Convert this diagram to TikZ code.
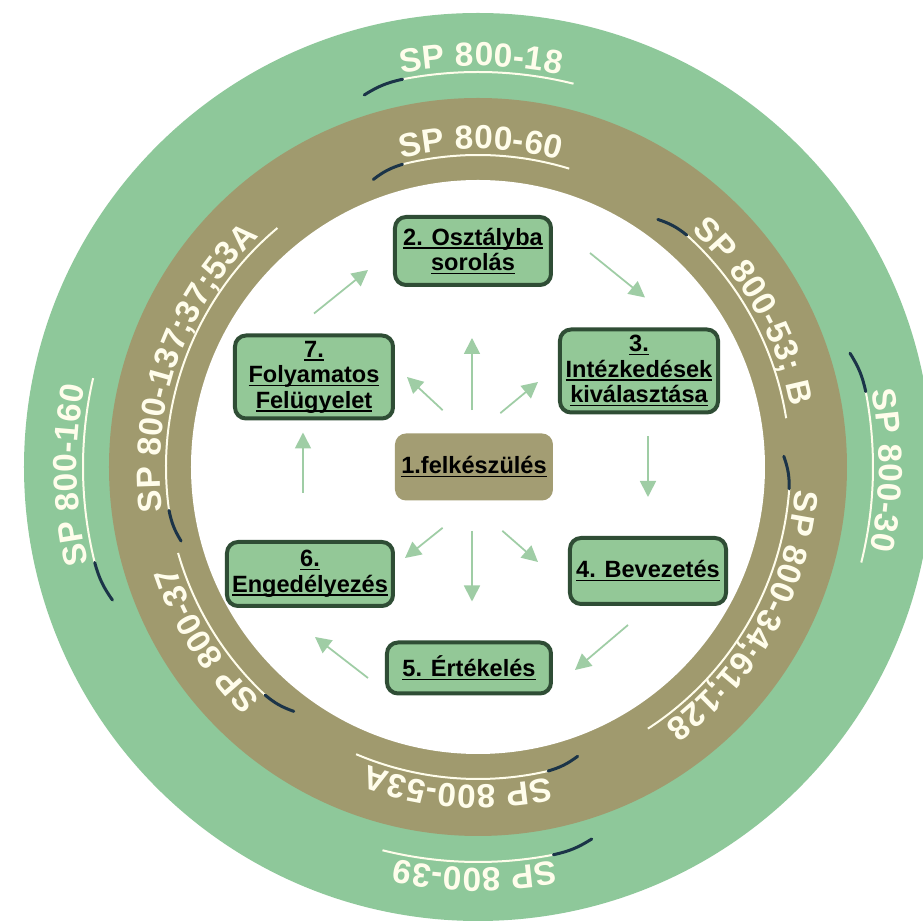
\documentclass[tikz,border=0pt]{standalone}
\usepackage{fontspec}
\setmainfont{Liberation Sans}
\usetikzlibrary{arrows.meta,calc,decorations.text}
\definecolor{RingGreen}{HTML}{8EC89A}
\definecolor{RingTan}{HTML}{A09A6E}
\definecolor{StageFill}{HTML}{93C897}
\definecolor{StageLine}{HTML}{2F4D35}
\definecolor{CoreFill}{HTML}{A39D73}
\definecolor{FlowGreen}{HTML}{9FCDA5}
\definecolor{TickBlue}{HTML}{1B3448}
\definecolor{LabelWhite}{HTML}{FFFDEB}

\newcommand{\ulw}[1]{\setbox0\hbox{#1}\rlap{\rule[-2pt]{\wd0}{0.9pt}}\box0}
\newcommand{\ringfont}{\fontsize{19}{20}\selectfont\bfseries}

\begin{document}
\begin{tikzpicture}[x=0.2mm,y=0.2mm,
    stage/.style={draw=StageLine,line width=0.8mm,fill=StageFill,rounded corners=2.2mm,
      align=center,inner sep=1mm,font={\fontsize{13.4}{14.5}\selectfont\bfseries}},
    core/.style={fill=CoreFill,rounded corners=2.2mm,align=center,inner sep=1mm,
      font={\fontsize{13.4}{14.5}\selectfont\bfseries}},
    flow/.style={draw=FlowGreen,line width=0.35mm,-{Triangle[length=3.2mm,width=3.2mm]}},
    uline/.style={draw=LabelWhite,line width=0.4mm},
    tick/.style={draw=TickBlue,line width=0.6mm,line cap=round},
    ringlabel/.style={postaction={decorate,decoration={text along path,raise=1.2mm,
      text color=LabelWhite,text={|\ringfont|#1}}}}]

  \path[use as bounding box,clip] (-478,-454) rectangle (445,467);
  \fill[white] (-478,-454) rectangle (445,467);

  % rings
  \fill[RingGreen] (0,0) circle[radius=454];
  \fill[RingTan] (0,0) circle[radius=369];
  \fill[white] (0,0) circle[radius=287];

  % outer ring labels
  \draw[uline,ringlabel={SP 800-18}] (101:395) arc[start angle=101,end angle=76,radius=395];
  \draw[tick] (107:389) to[bend left=10] (101:395);
  \draw[uline,ringlabel={SP 800-30}] (11:395) arc[start angle=11,end angle=-14,radius=395];
  \draw[tick] (17:389) to[bend left=10] (11:395);
  \draw[uline,ringlabel={SP 800-39}] (-79:395) arc[start angle=-79,end angle=-104,radius=395];
  \draw[tick] (-73:389) to[bend left=10] (-79:395);
  \draw[uline,ringlabel={SP 800-160}] (194:395) arc[start angle=194,end angle=167,radius=395];
  \draw[tick] (200:389) to[bend left=10] (194:395);

  % inner ring labels
  \draw[uline,ringlabel={SP 800-60}] (104:312) arc[start angle=104,end angle=73,radius=312];
  \draw[tick] (110:306) to[bend left=10] (104:312);
  \draw[uline,ringlabel={SP 800-53; B}] (48:312) arc[start angle=48,end angle=9,radius=312];
  \draw[tick] (54:306) to[bend left=10] (48:312);
  \draw[uline,ringlabel={SP 800-34;61;128}] (-4:312) arc[start angle=-4,end angle=-57,radius=312];
  \draw[tick] (2:306) to[bend left=10] (-4:312);
  \draw[uline,ringlabel={SP 800-53A}] (-77:312) arc[start angle=-77,end angle=-113,radius=312];
  \draw[tick] (-71:306) to[bend left=10] (-77:312);
  \draw[uline,ringlabel={SP 800-37}] (227:312) arc[start angle=227,end angle=196,radius=312];
  \draw[tick] (233:306) to[bend left=10] (227:312);
  \draw[uline,ringlabel={SP 800-137;37;53A}] (188:312) arc[start angle=188,end angle=130,radius=312];
  \draw[tick] (194:306) to[bend left=10] (188:312);

  % stages
  \node[core,minimum width=31.6mm,minimum height=13.4mm] (felkesz) at (-4,0) {\ulw{1.felkészülés}};
  \node[stage,minimum width=31.2mm,minimum height=13.6mm] (osztaly) at (-5,216) {\ulw{2. Osztályba}\\\ulw{sorolás}};
  \node[stage,minimum width=31.6mm,minimum height=16.6mm] (intezk) at (161,96) {\ulw{3.}\\\ulw{Intézkedések}\\\ulw{kiválasztása}};
  \node[stage,minimum width=31.2mm,minimum height=13.2mm] (bevez) at (170,-104) {\ulw{4. Bevezetés}};
  \node[stage,minimum width=32.8mm,minimum height=10.2mm] (ertek) at (-9,-201) {\ulw{5. Értékelés}};
  \node[stage,minimum width=33.2mm,minimum height=12.8mm] (engedely) at (-168,-107) {\ulw{6.}\\\ulw{Engedélyezés}};
  \node[stage,minimum width=31.6mm,minimum height=16.6mm] (felugy) at (-164,90) {\ulw{7.}\\\ulw{Folyamatos}\\\ulw{Felügyelet}};

  % cycle
  \draw[flow] ($(felugy.north)+(0,20)$) -- ($(osztaly.west)+(-25,-19)$);
  \draw[flow] ($(osztaly.east)+(37,-2)$) -- ($(intezk.north)+(6,30)$);
  \draw[flow] ($(intezk.south)+(9,-22)$) -- ($(bevez.north)+(0,39)$);
  \draw[flow] ($(bevez.south)+(-20,-19)$) -- ($(ertek.east)+(22,-2)$);
  \draw[flow] ($(ertek.west)+(-17,-10)$) -- ($(engedely.south)+(5,-29)$);
  \draw[flow] ($(engedely.north)+(-7,47)$) -- ($(felugy.south)+(-11,-12)$);

  % from the centre
  \draw[flow] ($(felkesz.north)+(-2,23)$) -- ($(osztaly.south)+(-1,-51)$);
  \draw[flow] ($(felkesz.north west)+(48,23)$) -- ($(felugy.east)+(12,0)$);
  \draw[flow] ($(felkesz.north east)+(-53,20)$) -- ($(intezk.west)+(-20,-11)$);
  \draw[flow] ($(felkesz.south)+(-2,-30)$) -- ($(ertek.north)+(3,39)$);
  \draw[flow] ($(felkesz.south west)+(48,-27)$) -- ($(engedely.east)+(10,16)$);
  \draw[flow] ($(felkesz.south east)+(-51,-30)$) -- ($(bevez.west)+(-30,9)$);
\end{tikzpicture}
\end{document}
